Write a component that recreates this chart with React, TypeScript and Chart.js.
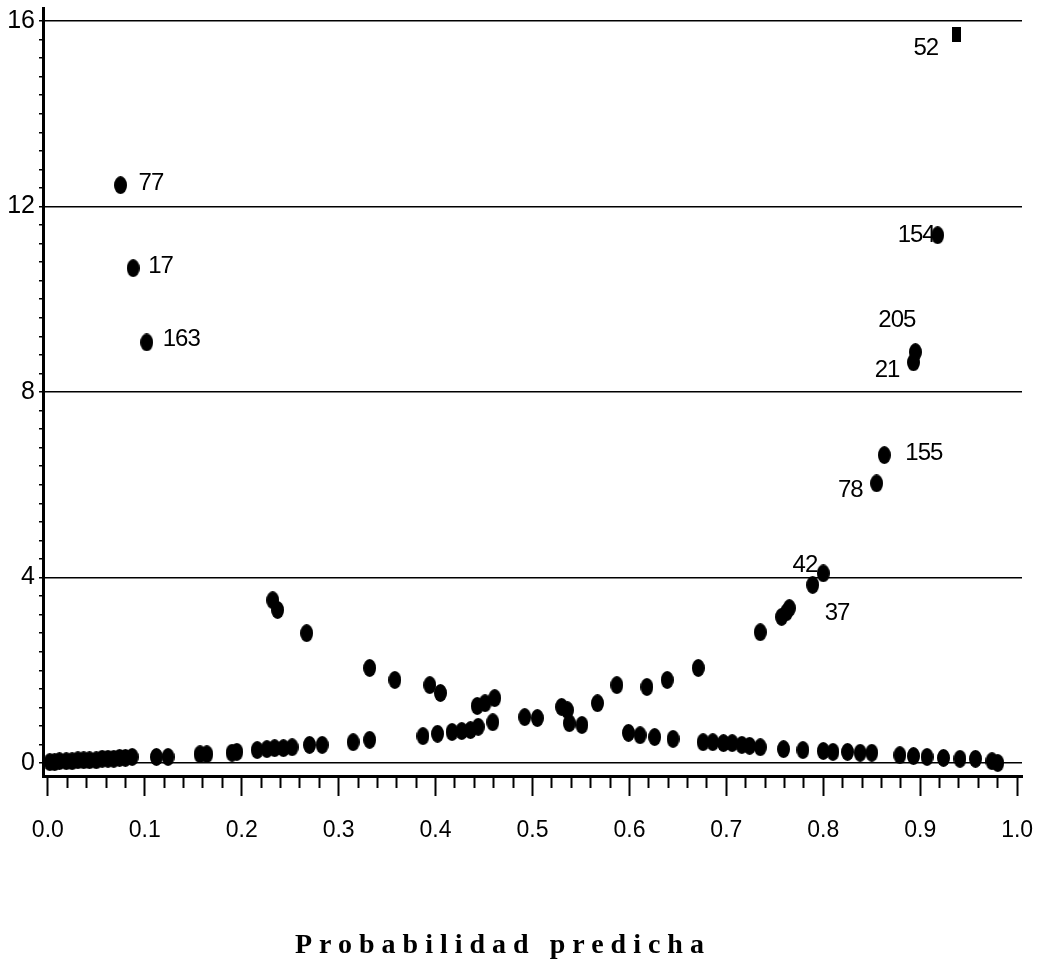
import React, { useEffect, useRef } from "react";
import { Chart, registerables } from "chart.js";

Chart.register(...registerables);

// ---- data (predicted probability vs. diagnostic value) ----
const plainX = [
  0.002, 0.007, 0.012, 0.019, 0.025, 0.031, 0.037, 0.043, 0.05, 0.056, 0.062, 0.068, 0.074, 0.08, 0.087,
  0.112, 0.124, 0.157, 0.164, 0.19, 0.195, 0.216, 0.226, 0.234, 0.243, 0.252, 0.27, 0.283, 0.315, 0.332,
  0.387, 0.402, 0.417, 0.427, 0.436, 0.444, 0.459,
  0.232, 0.237, 0.267, 0.332, 0.358, 0.394, 0.405, 0.443, 0.451, 0.461,
  0.492, 0.505, 0.53, 0.536, 0.538, 0.551,
  0.567, 0.587, 0.618, 0.639, 0.671, 0.735, 0.757, 0.762, 0.765,
  0.599, 0.611, 0.626, 0.645, 0.676, 0.686, 0.697, 0.706, 0.716, 0.724, 0.735, 0.759, 0.779, 0.8, 0.81,
  0.825, 0.838, 0.85, 0.879, 0.893, 0.907, 0.924, 0.941, 0.957, 0.974, 0.98,
];
const plainY = [
  0.02, 0.02, 0.04, 0.04, 0.04, 0.06, 0.06, 0.06, 0.06, 0.09, 0.09, 0.09, 0.11, 0.11, 0.13,
  0.13, 0.13, 0.19, 0.19, 0.22, 0.24, 0.28, 0.3, 0.32, 0.32, 0.34, 0.39, 0.39, 0.45, 0.5,
  0.58, 0.63, 0.67, 0.69, 0.71, 0.78, 0.88,
  3.51, 3.3, 2.8, 2.05, 1.79, 1.68, 1.51, 1.23, 1.29, 1.4,
  0.99, 0.97, 1.21, 1.14, 0.86, 0.82,
  1.29, 1.68, 1.64, 1.79, 2.05, 2.82, 3.15, 3.25, 3.34,
  0.65, 0.6, 0.56, 0.52, 0.45, 0.45, 0.43, 0.43, 0.39, 0.37, 0.34, 0.3, 0.28, 0.26, 0.24,
  0.24, 0.22, 0.22, 0.17, 0.15, 0.13, 0.11, 0.09, 0.09, 0.04, 0.0,
];

const labeledIds = ["77", "17", "163", "205", "21", "155", "78", "42", "37", "154"];
const labeledX = [0.075, 0.088, 0.102, 0.895, 0.893, 0.863, 0.855, 0.8, 0.789, 0.918];
const labeledY = [12.46, 10.67, 9.07, 8.86, 8.64, 6.64, 6.03, 4.09, 3.84, 11.38];

const squareIds = ["52"];
const squareX = [0.937];
const squareY = [15.71];

const xTickLabels = ["0.0", "0.1", "0.2", "0.3", "0.4", "0.5", "0.6", "0.7", "0.8", "0.9", "1.0"];
const yTickLabels = ["0", "4", "8", "12", "16"];
const xAxisTitle = "Probabilidad predicha";

// ---- label placement (style) ----
const labeledOffsets = [
  { dx: 18, dy: -2, align: "left" },
  { dx: 15, dy: -2, align: "left" },
  { dx: 16, dy: -3, align: "left" },
  { dx: 0, dy: -32, align: "right" },
  { dx: -14, dy: 8, align: "right" },
  { dx: 21, dy: -2, align: "left" },
  { dx: -14, dy: 7, align: "right" },
  { dx: -6, dy: -8, align: "right" },
  { dx: 12, dy: 28, align: "left" },
  { dx: -3, dy: 0, align: "right" },
];
const squareOffsets = [{ dx: -18, dy: 14, align: "right" }];

const FONT = "'Liberation Sans', Arial, sans-serif";
const near = (v: number, step: number) => Math.abs(v / step - Math.round(v / step)) < 1e-6;

const xTickValues: number[] = Array.from({ length: 51 }, (_, i) => Math.round(i * 2) / 100);
const yTickValues: number[] = Array.from({ length: 41 }, (_, i) => Math.round(i * 4) / 10);

function makeMarker(w: number, h: number, shape: "ellipse" | "rect") {
  const c = document.createElement("canvas");
  c.width = w;
  c.height = h;
  const g = c.getContext("2d")!;
  g.fillStyle = "#000";
  if (shape === "ellipse") {
    g.beginPath();
    g.ellipse(w / 2, h / 2, w / 2, h / 2, 0, 0, Math.PI * 2);
    g.fill();
  } else {
    g.fillRect(0, 0, w, h);
  }
  return c;
}

const pointLabelPlugin = {
  id: "pointLabels",
  afterDatasetsDraw(chart: any) {
    const ctx = chart.ctx;
    ctx.save();
    ctx.font = `24px ${FONT}`;
    try {
      (ctx as any).letterSpacing = "-1px";
    } catch (e) {}
    ctx.fillStyle = "#000";
    ctx.textBaseline = "middle";
    const drawSet = (dsIndex: number, ids: string[], offs: any[]) => {
      const meta = chart.getDatasetMeta(dsIndex);
      meta.data.forEach((el: any, i: number) => {
        const o = offs[i];
        ctx.textAlign = o.align;
        ctx.fillText(ids[i], el.x + o.dx, el.y + o.dy);
      });
    };
    drawSet(1, labeledIds, labeledOffsets);
    drawSet(2, squareIds, squareOffsets);
    ctx.restore();
  },
};

export default function App() {
  const ref = useRef<HTMLCanvasElement | null>(null);

  useEffect(() => {
    if (!ref.current) return;
    const ellipse = makeMarker(13, 18, "ellipse");
    const square = makeMarker(9, 15, "rect");
    const toPts = (xs: number[], ys: number[]) => xs.map((x, i) => ({ x, y: ys[i] }));

    const chart = new Chart(ref.current, {
      type: "scatter",
      data: {
        datasets: [
          { data: toPts(plainX, plainY), pointStyle: ellipse as any, pointRadius: 7, backgroundColor: "#000", borderColor: "#000" },
          { data: toPts(labeledX, labeledY), pointStyle: ellipse as any, pointRadius: 7, backgroundColor: "#000", borderColor: "#000" },
          { data: toPts(squareX, squareY), pointStyle: square as any, pointRadius: 7, backgroundColor: "#000", borderColor: "#000" },
        ],
      },
      options: {
        animation: false,
        responsive: false,
        events: [],
        layout: { padding: { left: 0, top: 8, right: 20, bottom: 106 } },
        plugins: { legend: { display: false }, tooltip: { enabled: false }, title: { display: false } },
        scales: {
          x: {
            type: "linear",
            min: -0.005,
            max: 1.005,
            afterBuildTicks: (s: any) => {
              s.ticks = xTickValues.map((v) => ({ value: v }));
            },
            afterFit: (s: any) => {
              s.height = 80;
              s.paddingLeft = 0;
              s.paddingRight = 0;
            },
            border: { display: true, color: "#000", width: 3 },
            grid: {
              drawOnChartArea: false,
              drawTicks: true,
              tickLength: 20,
              tickColor: "#000",
              tickWidth: 2,
              tickBorderDash: (c: any) => (c.tick && near(c.tick.value, 0.1) ? [] : [10, 100]),
            },
            ticks: {
              autoSkip: false,
              maxRotation: 0,
              minRotation: 0,
              padding: 21,
              color: "#000",
              font: { family: FONT, size: 23 },
              callback: (v: any) => (near(Number(v), 0.1) ? xTickLabels[Math.round(Number(v) * 10)] : ""),
            },
          },
          y: {
            type: "linear",
            min: -0.28,
            max: 16.28,
            afterBuildTicks: (s: any) => {
              s.ticks = yTickValues.map((v) => ({ value: v }));
            },
            afterFit: (s: any) => {
              s.width = 43;
              s.paddingTop = 0;
              s.paddingBottom = 0;
            },
            border: { display: true, color: "#000", width: 3 },
            grid: {
              color: (c: any) => (c.tick && near(c.tick.value, 4) ? "#000" : "rgba(0,0,0,0)"),
              lineWidth: 1.5,
              drawTicks: true,
              tickLength: 4,
              tickColor: "#000",
              tickWidth: 1.5,
            },
            ticks: {
              autoSkip: false,
              padding: 4,
              color: "#000",
              font: { family: FONT, size: 25 },
              callback: (v: any) => (near(Number(v), 4) ? yTickLabels[Math.round(Number(v) / 4)] : ""),
            },
          },
        },
      },
      plugins: [pointLabelPlugin],
    });
    return () => chart.destroy();
  }, []);

  return (
    <div style={{ position: "absolute", left: 0, top: 0, width: 1042, height: 962, background: "#fff" }}>
      <canvas ref={ref} width={1042} height={962} style={{ display: "block" }} />
      <div
        style={{
          position: "absolute",
          left: 295,
          top: 930,
          fontFamily: "'Liberation Serif', 'Times New Roman', serif",
          fontWeight: "bold",
          fontSize: 28,
          lineHeight: "28px",
          letterSpacing: "7px",
          whiteSpace: "nowrap",
          color: "#000",
        }}
      >
        {xAxisTitle}
      </div>
    </div>
  );
}
